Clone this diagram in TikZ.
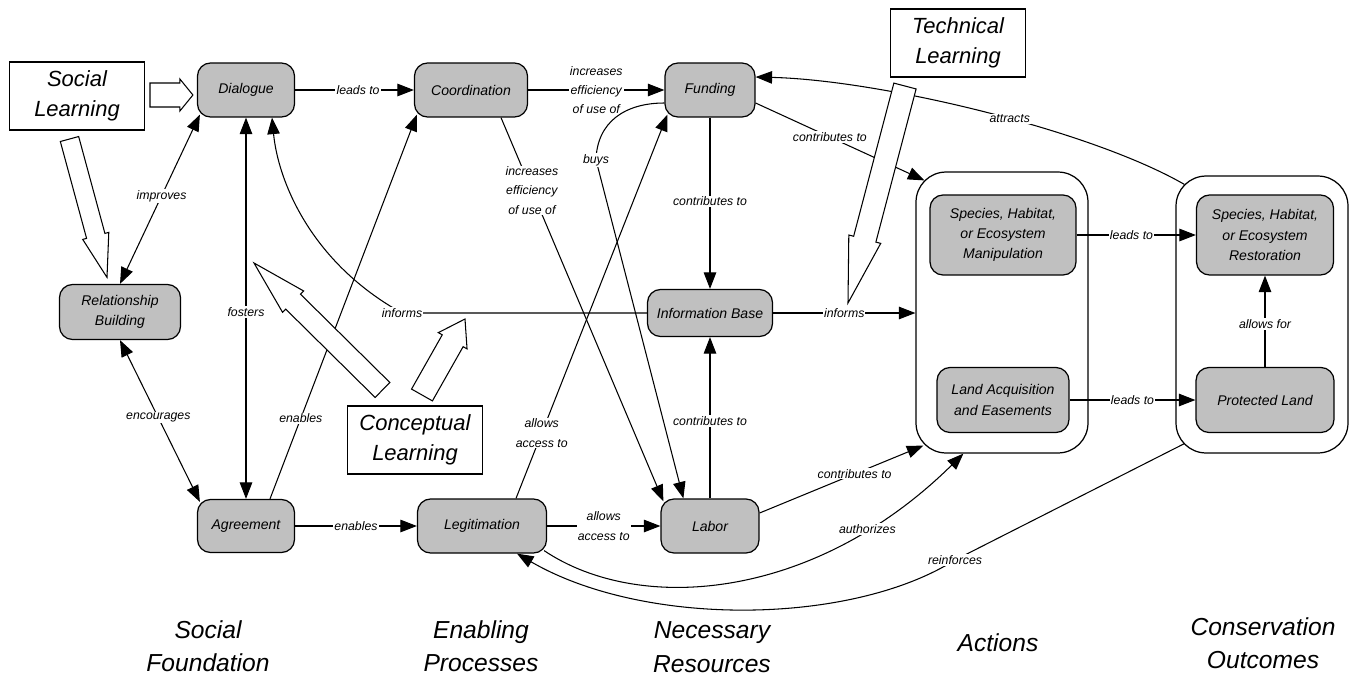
\documentclass[tikz,border=0pt]{standalone}
\usepackage{fontspec}
\setmainfont{Liberation Sans}
\usetikzlibrary{arrows.meta,calc}
\definecolor{boxgray}{HTML}{C0C0C0}

% wide hollow arrow: tail, tip, shaft half width, head half width, head length
\newcommand{\learnarrow}[5]{%
  \coordinate (la-t) at (#1);
  \coordinate (la-p) at (#2);
  \coordinate (la-b) at ($(la-p)!#5!(la-t)$);
  \draw[learnbody] ($(la-t)!#3!90:(la-p)$) -- ($(la-b)!#3!-90:(la-t)$) -- ($(la-b)!#4!-90:(la-t)$) -- (la-p)
    -- ($(la-b)!#4!90:(la-t)$) -- ($(la-b)!#3!90:(la-t)$) -- ($(la-t)!#3!-90:(la-p)$) -- cycle;
}

\begin{document}
\begin{tikzpicture}[
    x=0.02cm, y=-0.02cm,
    stage/.style={rectangle, draw, fill=boxgray, line width=0.7pt, rounded corners=0.26cm, align=center, inner sep=1pt, font=\fontsize{8}{11.5}\selectfont\itshape},
    learnbox/.style={rectangle, draw, fill=white, line width=0.6pt, minimum width=2.7cm, minimum height=1.36cm, align=center, font=\fontsize{12.5}{17}\selectfont\itshape},
    holder/.style={rectangle, draw, line width=0.7pt, rounded corners=0.6cm, minimum width=3.44cm},
    lbl/.style={fill=white, inner sep=0.6pt, align=center, font=\fontsize{7}{11}\selectfont\itshape},
    stagename/.style={align=center, font=\fontsize{14}{19}\selectfont\itshape},
    link/.style={line width=0.6pt, -{Triangle[length=0.33cm, width=0.25cm]}},
    twoway/.style={line width=0.6pt, {Triangle[length=0.33cm, width=0.25cm]}-{Triangle[length=0.33cm, width=0.25cm]}},
    learnbody/.style={draw, fill=white, line width=0.6pt, line join=miter}
]
\useasboundingbox (0,0) rectangle (1360,680);

% Social foundation
\node[stage, minimum width=1.94cm, minimum height=1.08cm] (dial) at (246,90) {Dialogue};
\node[stage, minimum width=2.42cm, minimum height=1.1cm] (relb) at (120,312) {Relationship\\Building};
\node[stage, minimum width=1.94cm, minimum height=1.06cm] (agree) at (246,526) {Agreement};

% Enabling processes
\node[stage, minimum width=2.26cm, minimum height=1.08cm] (coord) at (471,90) {Coordination};
\node[stage, minimum width=2.58cm, minimum height=1.08cm] (legit) at (482,526) {Legitimation};

% Necessary resources
\node[stage, minimum width=1.8cm, minimum height=1.08cm] (fund) at (710,90) {Funding};
\node[stage, minimum width=2.5cm, minimum height=0.94cm] (info) at (710,313) {Information Base};
\node[stage, minimum width=1.96cm, minimum height=1.08cm] (labor) at (710,526) {Labor};

% Actions
\node[holder, minimum height=5.62cm] (act) at (1002,312.5) {};
\node[stage, minimum width=2.92cm, minimum height=1.6cm] (manip) at (1003,235) {Species, Habitat,\\or Ecosystem\\Manipulation};
\node[stage, minimum width=2.64cm, minimum height=1.3cm] (land) at (1003,400) {Land Acquisition\\and Easements};

% Conservation outcomes
\node[holder, minimum height=5.54cm] (cons) at (1262,314.5) {};
\node[stage, minimum width=2.74cm, minimum height=1.6cm] (resto) at (1265,235) {Species, Habitat,\\or Ecosystem\\Restoration};
\node[stage, minimum width=2.76cm, minimum height=1.3cm] (prot) at (1265,400) {Protected Land};

% Learning
\node[learnbox] (social) at (77,96) {Social\\Learning};
\node[learnbox] (tech) at (958,43) {Technical\\Learning};
\node[learnbox] (concept) at (415,440) {Conceptual\\Learning};

% Column names
\node[stagename] (n-social) at (208,646) {Social\\Foundation};
\node[stagename] (n-enable) at (481,646) {Enabling\\Processes};
\node[stagename] (n-need) at (712,647) {Necessary\\Resources};
\node[stagename] (n-act) at (998,643) {Actions};
\node[stagename] (n-cons) at (1263,643) {Conservation\\Outcomes};

% Links
\draw[link] (dial) -- node[lbl, pos=0.53]{leads to} (coord);
\draw[link] (coord) -- node[lbl]{increases\\efficiency\\of use of} (fund);
\draw[twoway] (relb.north) -- node[lbl, pos=0.52]{improves} ($(dial.south west)+(3,-3)$);
\draw[twoway] (dial) -- node[lbl, pos=0.51]{fosters} (agree);
\draw[twoway] (relb.south) -- node[lbl, pos=0.48]{encourages} ($(agree.north west)+(3,3)$);
\draw[link] ($(agree.north)+(24,0)$) -- node[lbl, pos=0.21]{enables} ($(coord.south west)+(3,-3)$);
\draw[link] (agree) -- node[lbl]{enables} (legit);
\draw[link] (legit) -- node[lbl]{allows\\access to} (labor);
\draw[link] ($(legit.north)+(34,0)$) -- node[lbl, pos=0.17]{allows\\access to} ($(fund.south west)+(3,-3)$);
\draw[link] ($(coord.south)+(30,0)$) -- node[lbl, pos=0.19]{increases\\efficiency\\of use of} ($(labor.north west)+(3,3)$);
\draw[link] ($(fund.west)+(0,13)$) .. controls (625,103) and (597,122) .. (596,160) node[lbl]{buys} -- ($(labor.north west)+(23,0)$);
\draw[link] (fund) -- node[lbl, pos=0.49]{contributes to} (info);
\draw[link] (labor) -- node[lbl, pos=0.48]{contributes to} (info);
\draw[link] (info) -- node[lbl]{informs} (info -| act.west);
\draw[link] (info.west) -- (402,313) node[lbl]{informs} .. controls (310,262) and (278,180) .. ($(dial.south)+(26,0)$);
\draw[link] ($(fund.east)+(0,13)$) -- node[lbl, pos=0.44]{contributes to} ($(act.north west)+(9,9)$);
\draw[link] ($(labor.east)+(0,-13)$) -- node[lbl, pos=0.58]{contributes to} ($(act.south west)+(8,-8)$);
\draw[link] ($(legit.south east)+(-3,-3)$) .. controls (640,615) and (815,600) .. ($(act.south west)+(48,0)$) node[lbl, pos=0.79]{authorizes};
\draw[link] (manip) -- node[lbl, pos=0.46]{leads to} (resto);
\draw[link] (land) -- node[lbl]{leads to} (prot);
\draw[link] (prot) -- node[lbl, pos=0.47]{allows for} (resto);
\draw[link] ($(cons.north west)+(9,9)$) .. controls (1090,130) and (880,80) .. ($(fund.east)+(0,-13)$) node[lbl, pos=0.44]{attracts};
\draw[link] ($(cons.south west)+(9,-10)$) -- (955,560) node[lbl]{reinforces} .. controls (852,625) and (645,628) .. ($(legit.south)+(35,0)$);

% Learning arrows
\coordinate (sl-a) at ($(social.east)+(5,-1)$);
\coordinate (sl-b) at ($(dial.west)+(-4,5)$);
\coordinate (sl-c) at ($(social.south)+(-7.5,8.5)$);
\coordinate (sl-d) at ($(relb.north)+(-13,-6.5)$);
\coordinate (cl-a) at ($(concept.north west)+(35.5,-15.5)$);
\coordinate (cl-b) at (254,263);
\coordinate (cl-c) at ($(concept.north west)+(75,-10.5)$);
\coordinate (cl-d) at (465,319);
\coordinate (tl-a) at ($(tech.south west)+(15,8.5)$);
\coordinate (tl-b) at (848,303);
\learnarrow{sl-a}{sl-b}{0.24cm}{0.32cm}{0.26cm}
\learnarrow{sl-c}{sl-d}{0.19cm}{0.27cm}{0.86cm}
\learnarrow{cl-a}{cl-b}{0.21cm}{0.30cm}{1.1cm}
\learnarrow{cl-c}{cl-d}{0.24cm}{0.33cm}{0.5cm}
\learnarrow{tl-a}{tl-b}{0.23cm}{0.33cm}{1.32cm}

\end{tikzpicture}
\end{document}
